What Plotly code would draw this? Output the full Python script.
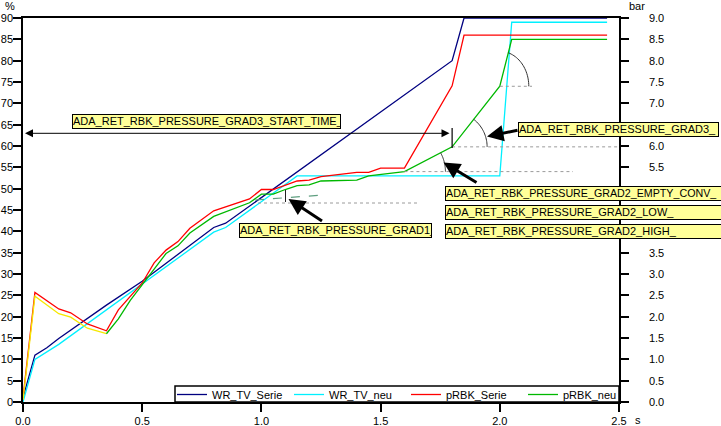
import math
import plotly.graph_objects as go

# ---------------- data ----------------
t_wr_serie = [0.0, 0.05, 0.10, 0.15, 0.35, 0.50, 0.80, 0.85, 1.80, 1.85, 2.45]
wr_tv_serie = [1.0, 11.0, 12.7, 14.9, 22.7, 28.3, 40.9, 41.9, 80.0, 90.0, 90.0]

t_wr_neu = [0.0, 0.05, 0.15, 0.35, 0.50, 0.80, 0.85, 1.15, 2.00, 2.05, 2.45]
wr_tv_neu = [0.0, 10.0, 13.5, 21.6, 27.5, 39.8, 40.9, 53.0, 53.0, 89.0, 89.0]

t_p_serie = [0.0, 0.05, 0.15, 0.20, 0.27, 0.35, 0.40, 0.45, 0.50, 0.55, 0.60, 0.65,
             0.70, 0.80, 0.95, 1.00, 1.05, 1.15, 1.20, 1.25, 1.40, 1.45, 1.50, 1.60,
             1.80, 1.85, 2.45]
p_rbk_serie = [0.10, 2.57, 2.18, 2.09, 1.83, 1.67, 2.16, 2.47, 2.79, 3.26, 3.56, 3.76,
               4.07, 4.48, 4.76, 4.98, 4.98, 5.18, 5.20, 5.28, 5.38, 5.38, 5.48, 5.48,
               7.41, 8.60, 8.60]

t_p_neu = [0.0, 0.05, 0.15, 0.20, 0.27, 0.35, 0.40, 0.45, 0.50, 0.55, 0.60, 0.65,
           0.70, 0.80, 0.95, 1.00, 1.05, 1.10, 1.15, 1.20, 1.25, 1.40, 1.45, 1.60,
           1.80, 2.00, 2.05, 2.45]
p_rbk_neu = [0.05, 2.48, 2.07, 1.99, 1.73, 1.60, 1.95, 2.38, 2.75, 3.12, 3.48, 3.66,
             3.96, 4.35, 4.67, 4.87, 4.87, 4.98, 5.07, 5.09, 5.18, 5.20, 5.30, 5.40,
             5.98, 7.40, 8.50, 8.50]
n_yellow = 6  # first samples of pRBK_neu are drawn yellow

x_ticks = [0.0, 0.5, 1.0, 1.5, 2.0, 2.5]
bar_ticks = [0.0, 0.5, 1.0, 1.5, 2.0, 2.5, 3.0, 3.5, 4.0, 4.5, 5.0, 5.5, 6.0, 6.5,
             7.0, 7.5, 8.0, 8.5, 9.0]
bar_hidden = [4.0, 4.5, 5.0, 6.5]   # labels hidden behind the annotation boxes

box_texts = ["ADA_RET_RBK_PRESSURE_GRAD3_START_TIME_",
             "ADA_RET_RBK_PRESSURE_GRAD3_",
             "ADA_RET_RBK_PRESSURE_GRAD1_",
             "ADA_RET_RBK_PRESSURE_GRAD2_EMPTY_CONV_",
             "ADA_RET_RBK_PRESSURE_GRAD2_LOW_",
             "ADA_RET_RBK_PRESSURE_GRAD2_HIGH_"]

# ---------------- geometry helpers (pixel coords) ----------------
W, H = 721, 426
PL, PR, PT, PB = 23, 619, 18, 402   # plot area
L, T, R, B = PL, PT, W - PR, H - PB
PW, PH = PR - PL, PB - PT
XMAX, YMAX = 2.5, 90.0
SX, SY = PW / XMAX, PH / YMAX


def px2x(px):
    return (px - PL) / SX


def py2y(py):
    return (PB - py) / SY


def pxp(px):
    return (px - PL) / PW


def pyp(py):
    return (PB - py) / PH


FONT = "Liberation Sans, Arial, sans-serif"

fig = go.Figure()

fig.add_trace(go.Scatter(x=t_wr_serie, y=wr_tv_serie, mode="lines", name="WR_TV_Serie",
                         line=dict(color="#000080", width=1.3)))
fig.add_trace(go.Scatter(x=t_wr_neu, y=wr_tv_neu, mode="lines", name="WR_TV_neu",
                         line=dict(color="#00F0FF", width=1.3)))
fig.add_trace(go.Scatter(x=t_p_serie, y=p_rbk_serie, mode="lines", name="pRBK_Serie",
                         yaxis="y2", line=dict(color="#FF0000", width=1.3)))
fig.add_trace(go.Scatter(x=t_p_neu[:n_yellow], y=p_rbk_neu[:n_yellow], mode="lines",
                         showlegend=False, yaxis="y2", hoverinfo="skip",
                         line=dict(color="#F5E800", width=1.3)))
fig.add_trace(go.Scatter(x=t_p_neu[n_yellow - 1:], y=p_rbk_neu[n_yellow - 1:], mode="lines",
                         name="pRBK_neu", yaxis="y2",
                         line=dict(color="#00B800", width=1.3)))


def gp(t):
    i = t_p_neu.index(t)
    return t_p_neu[i], p_rbk_neu[i] * 10


shapes = []
dot = dict(color="#9a9a9a", width=1, dash="dot")

# horizontal reference lines at pRBK_neu kinks
for t, x_end in [(1.6, px2x(573)), (1.8, 2.5), (2.0, px2x(532))]:
    x0, y0 = gp(t)
    shapes.append(dict(type="line", xref="x", yref="y", x0=x0, x1=x_end, y0=y0, y1=y0, line=dot))

# GRAD1 reference lines
shapes.append(dict(type="line", xref="x", yref="y", x0=px2x(258), x1=px2x(417),
                   y0=py2y(203), y1=py2y(203), line=dot))
shapes.append(dict(type="line", xref="x", yref="y", x0=px2x(255), x1=px2x(323),
                   y0=py2y(200), y1=py2y(195), line=dict(color="#5f9f80", width=1.2, dash="dash")))
shapes.append(dict(type="line", xref="x", yref="y", x0=px2x(285.5), x1=px2x(285.5),
                   y0=py2y(190), y1=py2y(202), line=dict(color="#222222", width=1)))

# vertical bar at GRAD3 start time
shapes.append(dict(type="line", xref="x", yref="y", x0=1.8, x1=1.8,
                   y0=py2y(148), y1=py2y(128), line=dict(color="black", width=1.2)))


def arc(t, t_next, rx, ry):
    x0, y0 = gp(t)
    x1, y1 = gp(t_next)
    dxp, dyp = (x1 - x0) * SX, (y1 - y0) * SY
    theta = math.atan2(dyp, dxp)
    tend = math.atan2(math.tan(theta) * rx / ry, 1.0)
    pts = []
    n = 24
    for k in range(n + 1):
        a = tend * k / n
        pts.append((x0 + rx * math.cos(a) / SX, y0 + ry * math.sin(a) / SY))
    return "M " + " L ".join(f"{a:.5f},{b:.4f}" for a, b in pts)


for t, tn, rx, ry in [(1.8, 2.0, 35, 35), (2.0, 2.05, 29, 35), (1.6, 1.8, 41, 40)]:
    shapes.append(dict(type="path", xref="x", yref="y", path=arc(t, tn, rx, ry),
                       line=dict(color="#333333", width=1)))

# legend frame
shapes.append(dict(type="rect", xref="paper", yref="paper", x0=pxp(175), x1=1.0,
                   y0=0, y1=pyp(386), fillcolor="white", layer="above",
                   line=dict(color="black", width=1.5)))

annotations = []

# boxes: (left px, top px, width px, height px, font size)
box_geo = [(72, 114, 267, 13, 11), (518, 122, 199, 13, 11), (239, 223, 191, 13, 11),
           (445, 186, 275, 13, 10.7), (445, 205, 275, 13, 11), (445, 224, 275, 13, 11)]
for txt, (bx, by, bw, bh, fs) in zip(box_texts, box_geo):
    annotations.append(dict(text=txt, xref="paper", yref="paper", x=pxp(bx), y=pyp(by),
                            xanchor="left", yanchor="top", width=bw, height=bh,
                            align="left", valign="top", showarrow=False,
                            bgcolor="#FFFF99", bordercolor="black", borderwidth=1, borderpad=0,
                            font=dict(family=FONT, size=fs, color="black")))

# thick arrows (tail px -> tip px)
for (tx, ty), (hx, hy) in [((519, 130), (487, 136.5)),
                           ((478, 183.5), (443.5, 162.5)),
                           ((323.5, 222), (288.5, 199))]:
    annotations.append(dict(text="", xref="x", yref="y", axref="x", ayref="y",
                            x=px2x(hx), y=py2y(hy), ax=px2x(tx), ay=py2y(ty),
                            showarrow=True, arrowhead=2, arrowsize=1.1, arrowwidth=3,
                            arrowcolor="black", standoff=0, startstandoff=0))

# double arrow for start time
annotations.append(dict(text="", xref="x", yref="y", axref="x", ayref="y",
                        x=px2x(25), y=py2y(133.3), ax=px2x(451), ay=py2y(133.3),
                        showarrow=True, arrowhead=2, startarrowhead=2, arrowside="end+start",
                        arrowsize=1.6, startarrowsize=1.6, arrowwidth=1,
                        arrowcolor="black", standoff=0, startstandoff=0))

# unit labels
for txt, x, y in [("%", 10, 6), ("bar", 637, 6), ("s", 638, 420)]:
    annotations.append(dict(text=txt, xref="paper", yref="paper", x=pxp(x), y=pyp(y),
                            xanchor="center", yanchor="middle", showarrow=False,
                            font=dict(family=FONT, size=11, color="black")))

axis_common = dict(showgrid=False, zeroline=False, showline=True, linecolor="black",
                   linewidth=1.5, ticks="outside", ticklen=8, tickwidth=2, tickcolor="black",
                   automargin=False,
                   tickfont=dict(family=FONT, size=11, color="black"))

bar_text = ["" if v in bar_hidden else f"{v:.1f}" for v in bar_ticks]

fig.update_layout(
    width=W, height=H,
    margin=dict(l=L, r=R, t=T, b=B, pad=0, autoexpand=False),
    paper_bgcolor="white", plot_bgcolor="white",
    font=dict(family=FONT, size=11, color="black"),
    xaxis=dict(range=[0, XMAX], tickvals=x_ticks, tickformat=".1f", mirror=True,
               layer="below traces", **axis_common),
    yaxis=dict(range=[0, YMAX], dtick=5, tickformat="d", side="left",
               layer="below traces", ticklabelstandoff=-2, **axis_common),
    yaxis2=dict(range=[0, 9], tickvals=bar_ticks, ticktext=bar_text, side="right",
                overlaying="y", layer="below traces", ticklabelstandoff=18, **axis_common),
    legend=dict(orientation="h", x=pxp(172), y=pyp(394.5), xanchor="left", yanchor="middle",
                bgcolor="rgba(0,0,0,0)", borderwidth=0,
                entrywidth=72, entrywidthmode="pixels", itemwidth=30,
                font=dict(family=FONT, size=11, color="black"), tracegroupgap=0),
    shapes=shapes,
    annotations=annotations,
    showlegend=True,
)

fig.write_html("out.html", config={"displayModeBar": False},
               post_script="document.body.style.margin='0';document.body.style.overflow='hidden';")
